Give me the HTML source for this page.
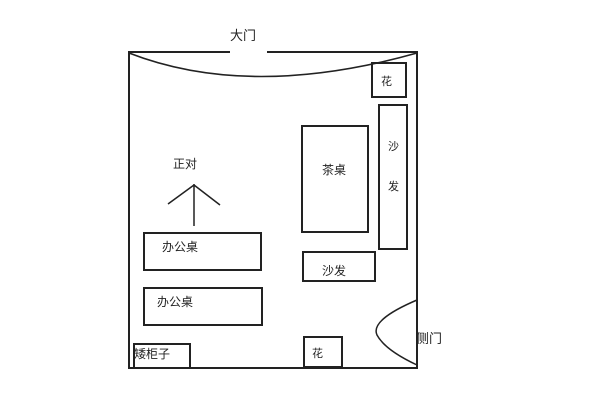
<!DOCTYPE html>
<html><head><meta charset="utf-8"><style>
html,body{margin:0;padding:0;background:#fff;width:600px;height:400px;overflow:hidden}
svg text{font-family:"Liberation Sans","Noto Sans CJK SC",sans-serif;fill:#222}
</style></head><body>
<svg width="600" height="400" viewBox="0 0 600 400" xmlns="http://www.w3.org/2000/svg">
<g fill="none" stroke="#222" stroke-width="2">
<path d="M230,52 L129,52 L129,368 L417,368 L417,52 L267,52"/>
<path d="M129,53 Q250,100 417,53" stroke-width="1.6"/>
<rect x="372" y="63" width="34" height="34"/>
<rect x="379" y="105" width="28" height="144"/>
<rect x="302" y="126" width="66" height="106"/>
<rect x="303" y="252" width="72" height="29"/>
<rect x="144" y="233" width="117" height="37"/>
<rect x="144" y="288" width="118" height="37"/>
<rect x="134" y="344" width="56" height="24"/>
<rect x="304" y="337" width="38" height="30"/>
<path d="M417,300 Q370,320 377,335 Q385,350 417,365" stroke-width="1.5"/>
<path d="M194,184 L194,226 M194,185 L168,204 M194,185 L220,205" stroke-width="1.5"/>
</g>
<g font-size="13">
<text x="230" y="40">大门</text>
<text x="381" y="85" font-size="11">花</text>
<text x="388" y="150" font-size="11">沙</text>
<text x="388" y="190" font-size="11">发</text>
<text x="322" y="174" font-size="12">茶桌</text>
<text x="322" y="275" font-size="12">沙发</text>
<text x="162" y="251" font-size="12">办公桌</text>
<text x="157" y="306" font-size="12">办公桌</text>
<text x="134" y="358" font-size="12">矮柜子</text>
<text x="312" y="357" font-size="11">花</text>
<text x="173" y="168" font-size="12">正对</text>
<text x="416" y="343" font-size="13">侧门</text>
</g>
</svg>
</body></html>
